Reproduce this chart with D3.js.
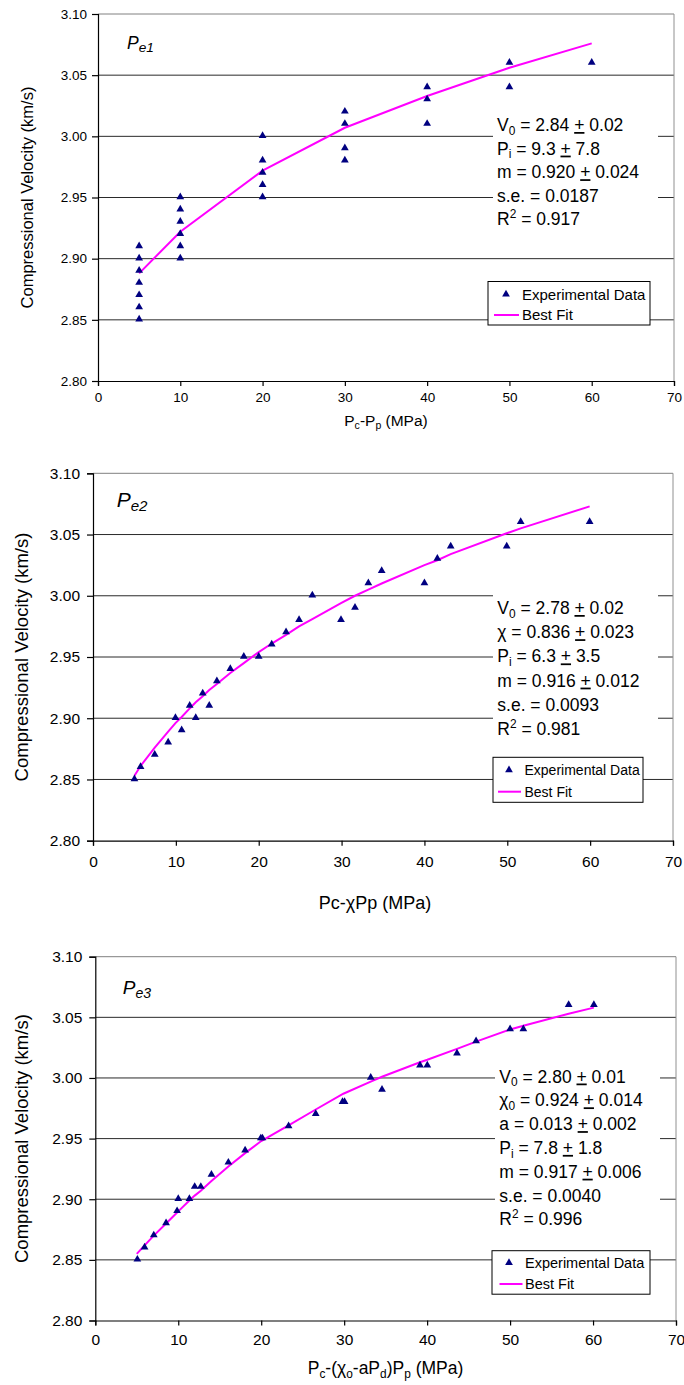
<!DOCTYPE html>
<html><head><meta charset="utf-8">
<script src="https://cdn.jsdelivr.net/npm/d3@7"></script>
<style>
body{margin:0;background:#fff}
svg{display:block}
text{font-family:"Liberation Sans",Arial,sans-serif;fill:#000}
</style>
</head><body>
<svg id="c" width="684" height="1385"></svg>
<script>
// ---------- shared tick / label data ----------
const xTicks = [0, 10, 20, 30, 40, 50, 60, 70];
const yTicks = [2.80, 2.85, 2.90, 2.95, 3.00, 3.05, 3.10];
const legendLabels = ["Experimental Data", "Best Fit"];
const yTitle = "Compressional Velocity (km/s)";

// ---------- Panel 1 : Pe1 ----------
const pe1X = [5,5,5,5,5,5,5, 10,10,10,10,10,10, 20,20,20,20,20, 30,30,30,30, 40,40,40, 50,50, 60];
const pe1V = [2.85,2.86,2.87,2.88,2.89,2.90,2.91, 2.90,2.91,2.92,2.93,2.94,2.95, 2.95,2.96,2.97,2.98,3.00, 2.98,2.99,3.01,3.02, 3.01,3.03,3.04, 3.04,3.06, 3.06];
const pe1FitX = [5, 10, 20, 30, 40, 50, 60];
const pe1FitV = [2.888, 2.922, 2.972, 3.007, 3.033, 3.056, 3.076];
const pe1Label = [["P"], ["e1", "sub"]];
const pe1XTitle = [["P"], ["c", "sub"], ["-P"], ["p", "sub"], ["  (MPa)"]];
const pe1Stats = [
  [["V"], ["0", "sub"], [" = 2.84 "], ["+", "u"], [" 0.02"]],
  [["P"], ["i", "sub"], [" = 9.3 "], ["+", "u"], [" 7.8"]],
  [["m = 0.920 "], ["+", "u"], [" 0.024"]],
  [["s.e. = 0.0187"]],
  [["R"], ["2", "sup"], [" = 0.917"]]
];

// ---------- Panel 2 : Pe2 ----------
const pe2X = [5.0,5.74,7.45,9.07,9.95,10.7,11.67,12.4,13.24,14.03,14.95,16.57,18.2,20.0,21.57,23.3,24.87,26.47,29.93,31.62,33.23,34.84,40.0,41.56,43.17,49.93,51.62,59.94];
const pe2V = [2.85,2.86,2.87,2.88,2.90,2.89,2.91,2.90,2.92,2.91,2.93,2.94,2.95,2.95,2.96,2.97,2.98,3.00,2.98,2.99,3.01,3.02,3.01,3.03,3.04,3.04,3.06,3.06];
const pe2FitX = [5.0,5.74,7.45,9.07,9.95,10.7,11.67,12.4,13.24,14.03,14.95,16.57,18.2,20.0,21.57,23.3,24.87,26.47,29.93,31.62,33.23,34.84,40.0,41.56,43.17,49.93,51.62,59.94];
const pe2FitV = [2.853,2.861,2.876,2.889,2.896,2.901,2.908,2.913,2.918,2.923,2.928,2.937,2.945,2.954,2.961,2.968,2.975,2.981,2.994,3.000,3.005,3.010,3.025,3.029,3.034,3.051,3.055,3.073];
const pe2Label = [["P"], ["e2", "sub"]];
const pe2XTitle = [["Pc-χPp (MPa)"]];
const pe2Stats = [
  [["V"], ["0", "sub"], [" = 2.78 "], ["+", "u"], [" 0.02"]],
  [["χ = 0.836 "], ["+", "u"], [" 0.023"]],
  [["P"], ["i", "sub"], [" = 6.3 "], ["+", "u"], [" 3.5"]],
  [["m = 0.916 "], ["+", "u"], [" 0.012"]],
  [["s.e. = 0.0093"]],
  [["R"], ["2", "sup"], [" = 0.981"]]
];

// ---------- Panel 3 : Pe3 ----------
const pe3X = [5.07,5.94,7.05,8.53,9.86,10.0,11.34,11.98,12.72,14.0,16.04,18.06,19.95,20.15,23.3,26.57,29.8,30.05,33.2,34.56,39.14,40.02,43.6,45.9,50.0,51.6,57.06,60.1];
const pe3V = [2.85,2.86,2.87,2.88,2.89,2.90,2.90,2.91,2.91,2.92,2.93,2.94,2.95,2.95,2.96,2.97,2.98,2.98,3.00,2.99,3.01,3.01,3.02,3.03,3.04,3.04,3.06,3.06];
const pe3FitX = [5.0,5.94,7.05,8.53,9.86,10.0,11.34,11.98,12.72,14.0,16.04,18.06,20.0,23.3,26.57,29.9,33.2,34.56,39.14,40.02,43.6,45.9,50.0,51.6,57.06,60.1];
const pe3FitV = [2.855,2.862,2.870,2.880,2.889,2.890,2.899,2.903,2.907,2.915,2.927,2.938,2.948,2.961,2.974,2.987,2.997,3.001,3.013,3.015,3.024,3.030,3.040,3.043,3.053,3.058];
const pe3Label = [["P"], ["e3", "sub"]];
const pe3XTitle = [["P"], ["c", "sub"], ["-(χ"], ["o", "sub"], ["-aP"], ["d", "sub"], [")P"], ["p", "sub"], ["  (MPa)"]];
const pe3Stats = [
  [["V"], ["0", "sub"], [" = 2.80 "], ["+", "u"], [" 0.01"]],
  [["χ"], ["0", "sub"], [" = 0.924 "], ["+", "u"], [" 0.014"]],
  [["a = 0.013 "], ["+", "u"], [" 0.002"]],
  [["P"], ["i", "sub"], [" = 7.8 "], ["+", "u"], [" 1.8"]],
  [["m = 0.917 "], ["+", "u"], [" 0.006"]],
  [["s.e. = 0.0040"]],
  [["R"], ["2", "sup"], [" = 0.996"]]
];

// ---------- layout (positions / styles) ----------
const panels = [
  { x: pe1X, v: pe1V, fx: pe1FitX, fv: pe1FitV, label: pe1Label, xTitle: pe1XTitle, stats: pe1Stats,
    L: 98, R: 674, T: 14, B: 381, tickFs: 13.5, tickDy: 21, ytGap: 11,
    xtFs: 15.5, xtX: 386, xtY: 426, ytFs: 16.5, ytX: 27,
    lab: { x: 127, y: 48.5, fs: 17.5, sub: 0.78 },
    box: { x: 493, y: 110, w: 165, h: 122 }, st: { x: 497, y: 131, dy: 23.6, fs: 17.5 },
    leg: { x: 488, y: 281.5, w: 162, h: 43.5, r1: 294.3, r2: 315, mx: 506, l1: 494, l2: 519, tx: 522, fs: 15 } },
  { x: pe2X, v: pe2V, fx: pe2FitX, fv: pe2FitV, label: pe2Label, xTitle: pe2XTitle, stats: pe2Stats,
    L: 93, R: 673, T: 473.3, B: 840.7, tickFs: 15.5, tickDy: 26, ytGap: 13,
    xtFs: 18, xtX: 375, xtY: 909, ytFs: 18.5, ytX: 22,
    lab: { x: 116.7, y: 506.7, fs: 21, sub: 0.72 },
    box: { x: 493, y: 591, w: 165, h: 151 }, st: { x: 497.3, y: 614, dy: 24.2, fs: 17.5 },
    leg: { x: 493, y: 757.3, w: 150, h: 45, r1: 770, r2: 791.7, mx: 509, l1: 498, l2: 521, tx: 524.5, fs: 14 } },
  { x: pe3X, v: pe3V, fx: pe3FitX, fv: pe3FitV, label: pe3Label, xTitle: pe3XTitle, stats: pe3Stats,
    L: 95.3, R: 676, T: 956.7, B: 1320.5, tickFs: 15.5, tickDy: 24.5, ytGap: 13,
    xtFs: 17.5, xtX: 385.5, xtY: 1374, ytFs: 18.5, ytX: 22,
    lab: { x: 122.7, y: 994.3, fs: 19, sub: 0.74 },
    box: { x: 495, y: 1063, w: 165, h: 170 }, st: { x: 499.3, y: 1082.5, dy: 23.8, fs: 17.5 },
    leg: { x: 492, y: 1250.7, w: 158, h: 43.5, r1: 1262.7, r2: 1284, mx: 509, l1: 499.5, l2: 522.5, tx: 525, fs: 14.5 } }
];

const svg = d3.select("#c");
const tri = d3.symbol().type(d3.symbolTriangle).size(26);

function rich(g, x, y, segs, fs, anchor, subRatio) {
  const r = subRatio || 0.68;
  const t = g.append("text").attr("x", x).attr("y", y).attr("font-size", fs)
    .attr("text-anchor", anchor || "start");
  let shift = 0;
  segs.forEach(([s, m]) => {
    const ts = t.append("tspan").text(s);
    let target = 0;
    if (m === "sub") { ts.attr("font-size", fs * r); target = fs * 0.22; }
    else if (m === "sup") { ts.attr("font-size", fs * r); target = -fs * 0.42; }
    else if (m === "u") { ts.attr("text-decoration", "underline"); }
    ts.attr("dy", target - shift);
    shift = target;
  });
  return t;
}

panels.forEach(p => {
  const g = svg.append("g");
  const x = d3.scaleLinear().domain([0, 70]).range([p.L, p.R]);
  const y = d3.scaleLinear().domain([2.80, 3.10]).range([p.B, p.T]);

  // horizontal gridlines
  g.append("g").selectAll("line").data(yTicks.filter(d => d > 2.80)).join("line")
    .attr("x1", p.L).attr("x2", p.R).attr("y1", d => y(d)).attr("y2", d => y(d))
    .attr("stroke", d => d === 3.10 ? "#808080" : "#2a2a2a").attr("stroke-width", 1);
  // right border
  g.append("line").attr("x1", p.R).attr("x2", p.R).attr("y1", p.T).attr("y2", p.B)
    .attr("stroke", "#909090").attr("stroke-width", 1);

  // axes
  const ax = g.append("g").attr("transform", `translate(0,${p.B})`)
    .call(d3.axisBottom(x).tickValues(xTicks).tickSize(5).tickPadding(p.tickDy - 5 - p.tickFs * 0.72).tickFormat(d3.format("d")));
  const ay = g.append("g").attr("transform", `translate(${p.L},0)`)
    .call(d3.axisLeft(y).tickValues(yTicks).tickSize(6).tickPadding(p.ytGap - 6).tickFormat(d3.format(".2f")));
  [ax, ay].forEach(a => {
    a.select(".domain").attr("stroke", "#000").attr("stroke-width", 1.2);
    a.selectAll(".tick line").attr("stroke", "#000").attr("stroke-width", 1.2);
    a.selectAll(".tick text").attr("font-size", p.tickFs).attr("font-family", "Liberation Sans, Arial, sans-serif").attr("fill", "#000");
  });
  ax.selectAll(".tick text").attr("dy", "0.71em");

  // annotation box
  g.append("rect").attr("x", p.box.x).attr("y", p.box.y).attr("width", p.box.w).attr("height", p.box.h).attr("fill", "#fff");
  p.stats.forEach((segs, i) => rich(g, p.st.x, p.st.y + i * p.st.dy, segs, p.st.fs));

  // fit line
  const fit = p.fx.map((d, i) => [d, p.fv[i]]);
  g.append("path").datum(fit)
    .attr("d", d3.line().x(d => x(d[0])).y(d => y(d[1])))
    .attr("fill", "none").attr("stroke", "#ff00ff").attr("stroke-width", 2);

  // data points
  g.append("g").selectAll("path").data(p.x.map((d, i) => [d, p.v[i]])).join("path")
    .attr("d", tri).attr("transform", d => `translate(${x(d[0])},${y(d[1]) - 0.5})`)
    .attr("fill", "#000080");

  // panel label
  rich(g, p.lab.x, p.lab.y, p.label, p.lab.fs, "start", p.lab.sub).attr("font-style", "italic");

  // legend
  const lg = p.leg;
  g.append("rect").attr("x", lg.x).attr("y", lg.y).attr("width", lg.w).attr("height", lg.h)
    .attr("fill", "#fff").attr("stroke", "#000").attr("stroke-width", 1);
  g.append("path").attr("d", tri).attr("transform", `translate(${lg.mx},${lg.r1})`).attr("fill", "#000080");
  g.append("line").attr("x1", lg.l1).attr("x2", lg.l2).attr("y1", lg.r2).attr("y2", lg.r2)
    .attr("stroke", "#ff00ff").attr("stroke-width", 2);
  g.append("text").attr("x", lg.tx).attr("y", lg.r1).attr("dy", "0.35em").attr("font-size", lg.fs).text(legendLabels[0]);
  g.append("text").attr("x", lg.tx).attr("y", lg.r2).attr("dy", "0.35em").attr("font-size", lg.fs).text(legendLabels[1]);

  // axis titles
  rich(g, p.xtX, p.xtY, p.xTitle, p.xtFs, "middle");
  g.append("text").attr("transform", `translate(${p.ytX},${(p.T + p.B) / 2}) rotate(-90)`)
    .attr("text-anchor", "middle").attr("dy", "0.35em").attr("font-size", p.ytFs).text(yTitle);
});
</script>
</body></html>
